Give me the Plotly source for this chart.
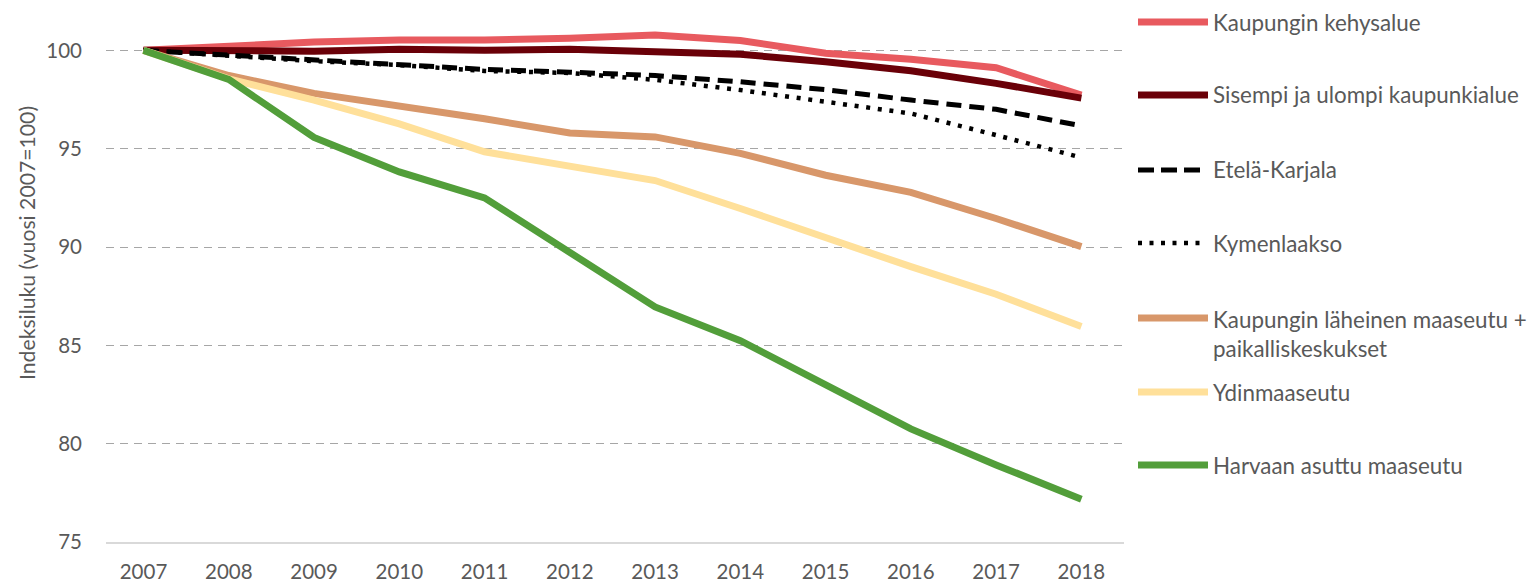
import plotly.graph_objects as go

years = ["2007", "2008", "2009", "2010", "2011", "2012", "2013", "2014", "2015", "2016", "2017", "2018"]

kehysalue = [100.0, 100.25, 100.42, 100.52, 100.52, 100.62, 100.78, 100.5, 99.85, 99.55, 99.12, 97.72]
sisempi = [100.0, 100.0, 99.96, 100.05, 100.0, 100.05, 99.93, 99.8, 99.42, 98.96, 98.32, 97.57]
etela_karjala = [100.0, 99.76, 99.51, 99.32, 99.03, 98.89, 98.72, 98.4, 98.0, 97.47, 97.0, 96.16]
kymenlaakso = [100.0, 99.7, 99.45, 99.25, 98.95, 98.85, 98.5, 97.98, 97.38, 96.79, 95.69, 94.55]
lahimaaseutu = [100.0, 98.72, 97.81, 97.18, 96.52, 95.8, 95.6, 94.76, 93.65, 92.78, 91.45, 90.02]
ydinmaaseutu = [100.0, 98.55, 97.47, 96.26, 94.84, 94.07, 93.38, 91.96, 90.45, 89.0, 87.6, 85.96]
harvaan = [100.0, 98.52, 95.57, 93.82, 92.5, 89.75, 86.95, 85.24, 83.02, 80.75, 78.92, 77.18]

series = [
    ("Kaupungin kehysalue", kehysalue, "#E85A5F", 7, "solid"),
    ("Sisempi ja ulompi kaupunkialue", sisempi, "#6A0008", 7, "solid"),
    ("Etelä-Karjala", etela_karjala, "#000000", 5, "15px,8px"),
    ("Kymenlaakso", kymenlaakso, "#000000", 4.5, "4px,7.7px"),
    ("Kaupungin läheinen maaseutu +<br>paikalliskeskukset", lahimaaseutu, "#D8976A", 7, "solid"),
    ("Ydinmaaseutu", ydinmaaseutu, "#FFE09A", 7, "solid"),
    ("Harvaan asuttu maaseutu", harvaan, "#529E3A", 7, "solid"),
]

W, H = 1534, 583
L, R, T, B = 106, 410, 0, 41
PW, PH = W - L - R, H - T - B


def px(xp):
    return (xp - L) / PW


def py(yp):
    return 1 - (yp - T) / PH


fig = go.Figure()
for name, vals, color, width, dash in series:
    fig.add_trace(go.Scatter(
        x=years, y=vals, mode="lines", name=name.replace("<br>", " "),
        line=dict(color=color, width=width, dash=dash),
        showlegend=False, hoverinfo="x+y+name",
    ))

font = "Lato, 'Open Sans', sans-serif"
textc = "#595959"

legend_y = [22, 95, 170, 243, 318, 392, 465]
shapes = []
annotations = []
for (name, vals, color, width, dash), yy in zip(series, legend_y):
    if dash == "solid":
        x0, x1, d = 1138, 1208, "solid"
    elif name == "Etelä-Karjala":
        x0, x1, d = 1138, 1200, "16px,7px"
    else:
        x0, x1, d = 1138, 1200, "4px,7.5px"
    shapes.append(dict(type="line", xref="paper", yref="paper",
                       x0=px(x0), x1=px(x1), y0=py(yy), y1=py(yy),
                       line=dict(color=color, width=width, dash=d)))
    two = "<br>" in name
    annotations.append(dict(
        xref="paper", yref="paper", x=px(1211), y=py(yy - 14) if two else py(yy),
        xanchor="left", yanchor="top" if two else "middle",
        text=name, showarrow=False, align="left",
        font=dict(family=font, size=22.4, color=textc),
    ))

annotations.append(dict(
    xref="paper", yref="paper", x=px(27), y=py(243),
    xanchor="center", yanchor="middle", textangle=-90,
    text="Indeksiluku (vuosi 2007=100)", showarrow=False,
    font=dict(family=font, size=21.2, color=textc),
))

fig.update_layout(
    width=W, height=H,
    margin=dict(l=L, r=R, t=T, b=B, autoexpand=False),
    paper_bgcolor="white", plot_bgcolor="white",
    shapes=shapes, annotations=annotations,
    font=dict(family=font, size=20, color=textc),
    xaxis=dict(
        type="category", range=[-0.44, 11.5], showgrid=False, automargin=False,
        showline=True, linecolor="#D9D9D9", linewidth=1.5,
        ticks="", tickfont=dict(family=font, size=20.5, color=textc),
        ticklabelstandoff=11, zeroline=False,
    ),
    yaxis=dict(
        range=[75, 102.56], tickvals=[75, 80, 85, 90, 95, 100], automargin=False,
        showgrid=True, gridcolor="#A6A6A6", gridwidth=1.3, griddash="8px,6px",
        showline=False, zeroline=False, ticks="",
        tickfont=dict(family=font, size=20.5, color=textc),
        ticklabelstandoff=23,
    ),
)

fig.write_html(
    "out.html",
    config={"displayModeBar": False},
    post_script="document.body.style.margin='0';document.body.style.overflow='hidden';",
)
